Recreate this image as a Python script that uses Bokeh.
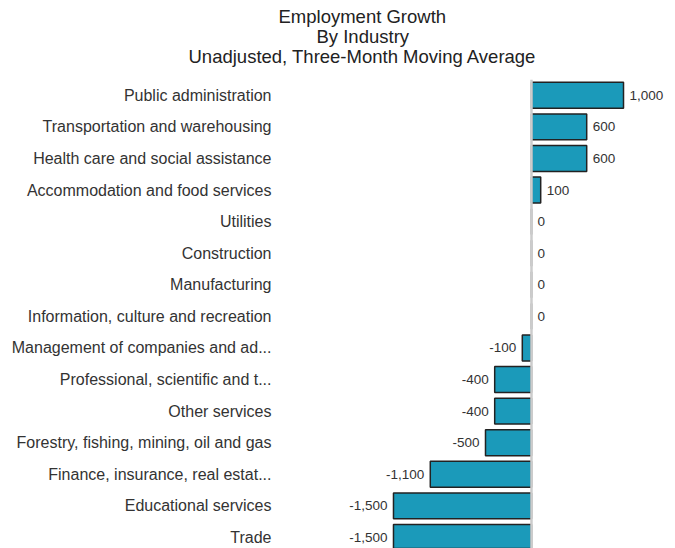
from bokeh.plotting import figure
from bokeh.models import ColumnDataSource, Range1d, FixedTicker, Span, Title
from bokeh.core.properties import value
from bokeh.embed import file_html
from bokeh.resources import INLINE

industries = [
    "Public administration",
    "Transportation and warehousing",
    "Health care and social assistance",
    "Accommodation and food services",
    "Utilities",
    "Construction",
    "Manufacturing",
    "Information, culture and recreation",
    "Management of companies and ad...",
    "Professional, scientific and t...",
    "Other services",
    "Forestry, fishing, mining, oil and gas",
    "Finance, insurance, real estat...",
    "Educational services",
    "Trade",
]
growth = [1000, 600, 600, 100, 0, 0, 0, 0, -100, -400, -400, -500, -1100, -1500, -1500]
title_lines = ["Employment Growth", "By Industry", "Unadjusted, Three-Month Moving Average"]
title_offsets = [-3, 35, -93]

FONT = "Liberation Sans"
idx = list(range(len(industries)))
labels = [f"{v:,}" for v in growth]
aligns = ["right" if v < 0 else "left" for v in growth]
offs = [-6 if v < 0 else 6 for v in growth]

src = ColumnDataSource(dict(y=idx, v=growth, lab=labels, al=aligns, off=offs))

p = figure(width=675, height=548, output_backend="svg", toolbar_location=None,
           x_range=Range1d(-2717, 1565), y_range=Range1d(14.35, -0.5),
           min_border_left=281, min_border_right=0, min_border_bottom=0, min_border_top=79)
p.outline_line_color = None
p.background_fill_color = "white"
p.border_fill_color = "white"
p.grid.visible = False
p.xaxis.visible = False

ya = p.yaxis[0]
ya.ticker = FixedTicker(ticks=idx)
ya.major_label_overrides = {i: n for i, n in enumerate(industries)}
ya.axis_line_color = None
ya.major_tick_line_color = None
ya.minor_tick_line_color = None
ya.major_tick_out = 0
ya.major_tick_in = 0
ya.major_label_standoff = 10
ya.major_label_text_font = FONT
ya.major_label_text_font_size = "16px"
ya.major_label_text_color = "#333333"

p.hbar(y="y", left=0, right="v", height=0.82, source=src,
       fill_color="#1b9aba", line_color="#222222", line_width=1.5)

p.add_layout(Span(location=0, dimension="height", line_color="#cccccc", line_width=2.5))

p.text(x="v", y="y", text="lab", source=src, text_align="al", x_offset="off",
       text_baseline="middle", text_font=value(FONT), text_font_size="13.5px",
       text_color="#333333")

# spacer between the title block and the bars
p.add_layout(Title(text=" ", standoff=1, text_font=FONT, text_font_size="10px"), "above")
# first added Title sits closest to the plot, so add the lines bottom-up
for t, off in reversed(list(zip(title_lines, title_offsets))):
    p.add_layout(Title(text=t, align="left", offset=off, standoff=-3,
                       text_font=FONT, text_font_size="18.5px",
                       text_font_style="normal", text_color="#222222"), "above")

open("out.html", "w").write(file_html(p, INLINE))
